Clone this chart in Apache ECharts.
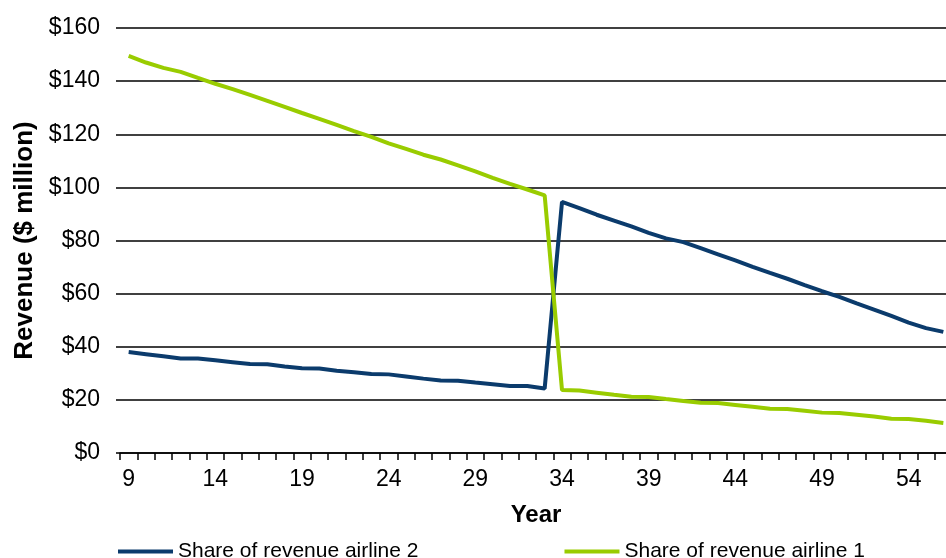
<!DOCTYPE html>
<html>
<head>
<meta charset="utf-8">
<script src="https://cdn.jsdelivr.net/npm/echarts@6/dist/echarts.min.js"></script>
<style>html,body{margin:0;padding:0;background:#fff;}#c{width:946px;height:558px;}</style>
</head>
<body>
<div id="c"></div>
<script>
var years = [];
for (var y = 9; y <= 56; y++) years.push(String(y));

var airline2 = [38, 37.2, 36.4, 35.6, 35.6, 34.9, 34.2, 33.5, 33.4, 32.6, 31.9, 31.8, 31, 30.4, 29.7, 29.6, 28.8, 28, 27.3, 27.2, 26.5, 25.9, 25.2, 25.2, 24.3,
  94.5, 92.2, 89.7, 87.5, 85.3, 82.9, 80.8, 79.4, 77.1, 74.8, 72.5, 70.1, 67.8, 65.6, 63.2, 60.9, 58.8, 56.3, 54, 51.6, 49.1, 47, 45.6];
var airline1 = [149.5, 147, 145, 143.5, 141.2, 139, 137, 134.8, 132.6, 130.3, 128, 125.8, 123.5, 121.2, 119, 116.6, 114.5, 112.3, 110.5, 108.3, 106, 103.6, 101.3, 99.2, 97,
  23.7, 23.5, 22.7, 21.9, 21.2, 21.1, 20.3, 19.6, 18.9, 18.8, 18.1, 17.4, 16.7, 16.6, 15.9, 15.2, 15.1, 14.4, 13.7, 12.9, 12.8, 12.1, 11.3];
var seriesNames = ['Share of revenue airline 2', 'Share of revenue airline 1'];
var yTicks = [0, 20, 40, 60, 80, 100, 120, 140, 160];

var FONT = 'Liberation Sans, Arial, sans-serif';
var chart = echarts.init(document.getElementById('c'), null, {renderer: 'canvas'});
chart.setOption({
  animation: false,
  backgroundColor: '#ffffff',
  grid: {left: 120, width: 832, top: 28, height: 425, containLabel: false, outerBoundsMode: 'none'},
  legend: {
    left: 113, top: 536,
    itemWidth: 55, itemHeight: 4, itemGap: 146,
    icon: 'rect',
    textStyle: {fontFamily: FONT, fontSize: 21, color: '#000'},
    data: seriesNames
  },
  xAxis: {
    type: 'category',
    data: years,
    boundaryGap: true,
    name: 'Year',
    nameLocation: 'middle',
    nameGap: 50,
    nameTextStyle: {fontFamily: FONT, fontSize: 24, fontWeight: 'bold', color: '#000'},
    axisLine: {show: true, lineStyle: {color: '#000', width: 1.5}},
    axisTick: {show: true, interval: 0, length: 7, lineStyle: {color: '#000', width: 1.5}},
    axisLabel: {interval: 4, margin: 15, fontFamily: FONT, fontSize: 23, color: '#000'},
    splitLine: {show: false}
  },
  yAxis: {
    type: 'value',
    min: yTicks[0], max: yTicks[yTicks.length - 1], interval: 20,
    name: 'Revenue ($ million)',
    nameLocation: 'middle',
    nameGap: 78,
    nameRotate: 90,
    nameTextStyle: {fontFamily: FONT, fontSize: 26, fontWeight: 'bold', color: '#000'},
    axisLine: {show: false},
    axisTick: {show: true, length: 4, lineStyle: {color: '#000', width: 1.5}},
    axisLabel: {margin: 20, fontFamily: FONT, fontSize: 23, color: '#000', formatter: function (v) { return '$' + v; }},
    splitLine: {show: true, lineStyle: {color: '#000', width: 1.5}}
  },
  series: [
    {name: seriesNames[0], type: 'line', data: airline2, symbol: 'none', lineStyle: {color: '#0b3b6c', width: 4}, itemStyle: {color: '#0b3b6c'}},
    {name: seriesNames[1], type: 'line', data: airline1, symbol: 'none', lineStyle: {color: '#99cc00', width: 4}, itemStyle: {color: '#99cc00'}}
  ]
});
</script>
</body>
</html>
